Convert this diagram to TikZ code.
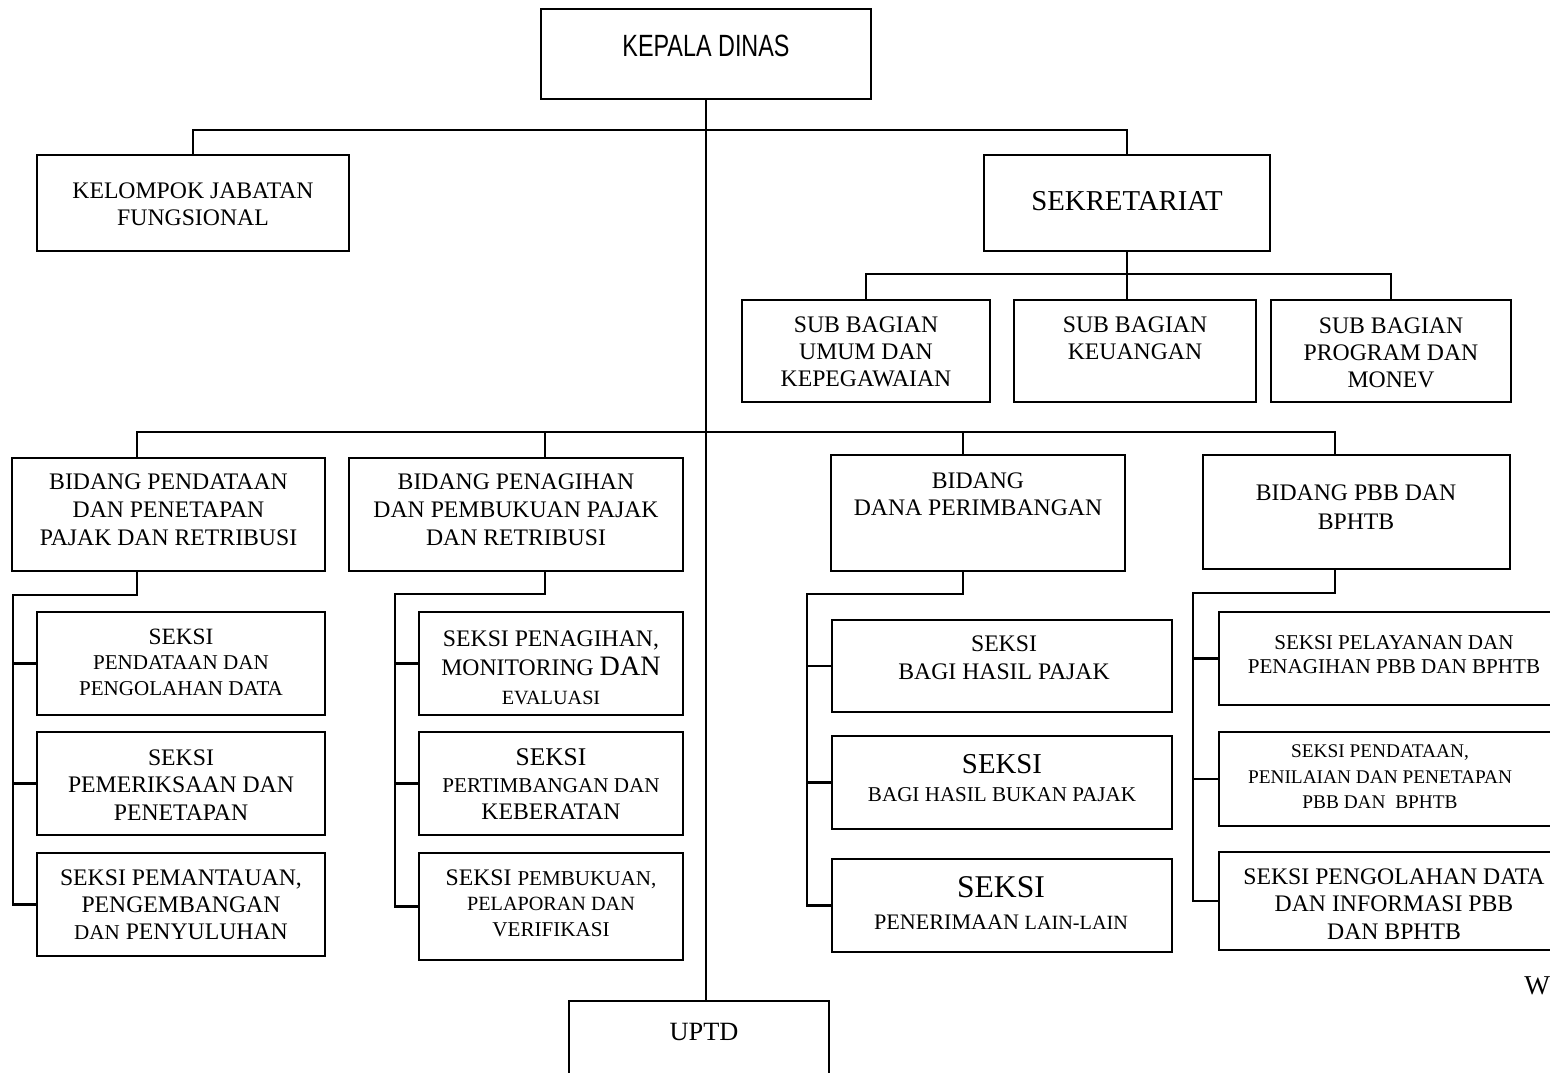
\documentclass[tikz,border=0pt]{standalone}
\usepackage{fontspec}
\usepackage{graphicx}
\setmainfont{Liberation Serif}
\newfontfamily\kadisfont{Liberation Sans}
\newcommand\fs[2]{\fontsize{#1}{#2}\selectfont}

\begin{document}
\begin{tikzpicture}[x=0.02cm, y=-0.02cm]
    \tikzstyle{box} = [draw, line width=1.2pt, inner sep=0pt]
    \tikzstyle{txt} = [align=center, inner sep=0pt, font=\fs{13.5}{15.5}]
    \tikzstyle{link} = [line width=1.2pt]
    \tikzset{boxsize/.style 2 args={minimum width=#1*0.02cm, minimum height=#2*0.02cm}}
    \useasboundingbox (0,0) rectangle (1550,1072);

    % top
    \node[box, boxsize={330}{90}] (kadis) at (706,54) {};
    \node[txt, font=\kadisfont\fs{17.5}{20}] (kadist) at (706,46) {\scalebox{0.76}[1]{KEPALA DINAS}};
    \node[box, boxsize={312}{96}] (kel) at (193,203) {};
    \node[txt] (kelt) at (193,204) {KELOMPOK JABATAN\\FUNGSIONAL};
    \node[box, boxsize={286}{96}] (sekr) at (1127,203) {};
    \node[txt, font=\fs{16.4}{19}] (sekrt) at (1127,201) {SEKRETARIAT};

    % sub bagian
    \node[box, boxsize={248}{102}] (sub1) at (866,351) {};
    \node[txt] (sub1t) at (866,352) {SUB BAGIAN\\UMUM DAN\\KEPEGAWAIAN};
    \node[box, boxsize={242}{102}] (sub2) at (1135,351) {};
    \node[txt] (sub2t) at (1135,338) {SUB BAGIAN\\KEUANGAN};
    \node[box, boxsize={240}{102}] (sub3) at (1391,351) {};
    \node[txt] (sub3t) at (1391,353) {SUB BAGIAN\\PROGRAM DAN\\MONEV};

    % bidang
    \node[box, boxsize={313}{113}] (b1) at (168.5,514.5) {};
    \node[txt, font=\fs{13.5}{16}] (b1t) at (168.5,510) {BIDANG PENDATAAN\\DAN PENETAPAN\\PAJAK DAN RETRIBUSI};
    \node[box, boxsize={334}{113}] (b2) at (516,514.5) {};
    \node[txt, font=\fs{13.5}{16}] (b2t) at (516,510) {BIDANG PENAGIHAN\\DAN PEMBUKUAN PAJAK\\DAN RETRIBUSI};
    \node[box, boxsize={294}{116}] (b3) at (978,513) {};
    \node[txt] (b3t) at (978,494) {BIDANG\\DANA PERIMBANGAN};
    \node[box, boxsize={307}{114}] (b4) at (1356.5,512) {};
    \node[txt, font=\fs{13.5}{16.5}] (b4t) at (1356,507) {BIDANG PBB DAN\\BPHTB};

    % seksi bidang 1
    \node[box, boxsize={288}{103}] (s11) at (181,663.5) {};
    \node[txt, font=\fs{12}{14.5}] (s11t) at (181,662) {{\fs{13.3}{14.5}SEKSI}\\PENDATAAN DAN\\PENGOLAHAN DATA};
    \node[box, boxsize={288}{103}] (s12) at (181,783.5) {};
    \node[txt] (s12t) at (181,785) {SEKSI\\PEMERIKSAAN DAN\\PENETAPAN};
    \node[box, boxsize={288}{103}] (s13) at (181,904.5) {};
    \node[txt] (s13t) at (181,905) {SEKSI PEMANTAUAN,\\PENGEMBANGAN\\{\fs{12}{15.5}DAN} PENYULUHAN};

    % seksi bidang 2
    \node[box, boxsize={264}{103}] (s21) at (551,663.5) {};
    \node[txt, font=\fs{13.5}{16.5}] (s21t) at (551,668) {SEKSI PENAGIHAN,\\MONITORING {\fs{16}{16.5}DAN}\\{\fs{11.5}{16.5}EVALUASI}};
    \node[box, boxsize={264}{103}] (s22) at (551,783.5) {};
    \node[txt] (s22t) at (551,784) {{\fs{14.5}{15.5}SEKSI}\\{\fs{12}{15.5}PERTIMBANGAN DAN}\\KEBERATAN};
    \node[box, boxsize={264}{107}] (s23) at (551,906.5) {};
    \node[txt, font=\fs{13.5}{14.5}] (s23t) at (551,903) {SEKSI {\fs{12}{14.5}PEMBUKUAN,}\\{\fs{11.5}{14.5}PELAPORAN DAN}\\{\fs{12}{14.5}VERIFIKASI}};

    % seksi bidang 3
    \node[box, boxsize={340}{92}] (s31) at (1002,666) {};
    \node[txt, font=\fs{13.5}{16}] (s31t) at (1004,658) {SEKSI\\BAGI HASIL PAJAK};
    \node[box, boxsize={340}{93}] (s32) at (1002,782.5) {};
    \node[txt] (s32t) at (1002,778) {{\fs{16.4}{15.5}SEKSI}\\{\fs{12}{15.5}BAGI HASIL BUKAN PAJAK}};
    \node[box, boxsize={340}{93}] (s33) at (1002,905.5) {};
    \node[txt, font=\fs{12.6}{18.2}] (s33t) at (1001,903) {{\fs{18}{18.2}SEKSI}\\PENERIMAAN {\fs{11.5}{18.2}LAIN-LAIN}};

    % seksi bidang 4
    \node[box, boxsize={337}{93}] (s41) at (1387.5,658.5) {};
    \node[txt, font=\fs{12}{13.7}] (s41t) at (1394,655) {SEKSI PELAYANAN DAN\\PENAGIHAN PBB DAN BPHTB};
    \node[box, boxsize={337}{94}] (s42) at (1387.5,779) {};
    \node[txt, font=\fs{11}{14.5}] (s42t) at (1380,777) {SEKSI PENDATAAN,\\PENILAIAN DAN PENETAPAN\\PBB DAN\ \ BPHTB};
    \node[box, boxsize={337}{98}] (s43) at (1387.5,901) {};
    \node[txt] (s43t) at (1394,904) {SEKSI PENGOLAHAN DATA\\DAN INFORMASI PBB\\DAN BPHTB};

    % bottom
    \node[box, boxsize={260}{79}] (uptd) at (699,1040.5) {};
    \node[txt, font=\fs{15}{18}] (uptdt) at (704,1032) {UPTD};
    \node[txt, font=\fs{15.5}{18}, anchor=west] (wmark) at (1524,986) {W};

    % connectors
    \coordinate (bartop) at (707,130);
    \coordinate (barsub) at (1127,274);
    \coordinate (barmid) at (707,432);
    \coordinate (b1x) at (137,0);
    \coordinate (b2x) at (545,0);
    \coordinate (b3x) at (963,0);
    \coordinate (b4x) at (1335,0);
    \coordinate (sp1) at (13,595);
    \coordinate (sp2) at (395,594);
    \coordinate (sp3) at (807,594);
    \coordinate (sp4) at (1193,593);

    \draw[link] (kadis.south) -- (kadis.south |- uptd.north);
    \draw[link] (kel.north) |- (bartop) -| (sekr.north);
    \draw[link] (sekr.south) -- (barsub);
    \draw[link] (sub1.north) |- (barsub) -| (sub3.north);
    \draw[link] (barsub) -- (barsub |- sub2.north);
    \draw[link] (b1x |- b1.north) |- (barmid) -| (b4x |- b4.north);
    \draw[link] (b2x |- b2.north) -- (b2x |- barmid);
    \draw[link] (b3x |- b3.north) -- (b3x |- barmid);

    \draw[link] (b1x |- b1.south) |- (sp1) |- (s11.west);
    \draw[link] (sp1) |- (s12.west);
    \draw[link] (sp1) |- (s13.west);
    \draw[link] (b2x |- b2.south) |- (sp2) |- (s21.west);
    \draw[link] (sp2) |- (s22.west);
    \draw[link] (sp2) |- (s23.west);
    \draw[link] (b3x |- b3.south) |- (sp3) |- (s31.west);
    \draw[link] (sp3) |- (s32.west);
    \draw[link] (sp3) |- (s33.west);
    \draw[link] (b4x |- b4.south) |- (sp4) |- (s41.west);
    \draw[link] (sp4) |- (s42.west);
    \draw[link] (sp4) |- (s43.west);
\end{tikzpicture}
\end{document}
